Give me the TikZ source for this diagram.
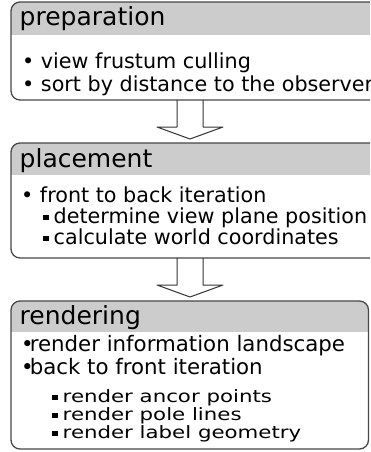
\documentclass[tikz,border=0pt]{standalone}
\usepackage{fontspec}
\setmainfont{DejaVu Sans}
\usepackage{graphicx}
\usepackage{tikz}

\newcommand{\sqbullet}{\rule[3pt]{6pt}{5.5pt}\hspace{4.5pt}}

\begin{document}
\begin{tikzpicture}
		[x=1pt,y=-1pt,line join=round,
		%Styles
		stage frame/.style={draw=framecolor,line width=1.3pt,rounded corners=9pt},
		header band/.style={fill=headcolor},
		title text/.style={anchor=base west,inner sep=0pt,font=\fontsize{25}{30}\selectfont},
		item text/.style={anchor=base west,inner sep=0pt,font=\fontsize{20.7}{25}\selectfont},
		small item/.style={anchor=base west,inner sep=0pt,font=\fontsize{21.3}{25}\selectfont},
		block arrow/.style={draw=arrowcolor,line width=1pt}
		]
		
		%Colors
		\colorlet{framecolor}{black!72}	%box outlines
		\colorlet{headcolor}{black!20}	%header bands
		\colorlet{arrowcolor}{black!80}
		
		\useasboundingbox (0,0) rectangle (370,452);
		\clip (0,0) rectangle (370,452);
		
		%The boxes
		\begin{scope}
			\clip[rounded corners=9pt] (11,2) rectangle (380,100);
			\fill[header band] (11,2) rectangle (380,35);
		\end{scope}
		\draw[stage frame] (11,2) rectangle (380,100);
		
		\begin{scope}
			\clip[rounded corners=9pt] (11,143) rectangle (380,258);
			\fill[header band] (11,143) rectangle (380,175);
		\end{scope}
		\draw[stage frame] (11,143) rectangle (380,258);
		
		\begin{scope}
			\clip[rounded corners=9pt] (11,301) rectangle (368.5,449);
			\fill[header band] (11,301) rectangle (368.5,332);
		\end{scope}
		\draw[stage frame] (11,301) rectangle (368.5,449);
		
		%The texts
		\node[title text] (prep) at (19.5,26) {preparation};
		\node[item text] (prep1) at (22,69) {• view frustum culling};
		\node[item text] (prep2) at (22,91) {• sort by distance to the observer};
		
		\node[title text] (place) at (19.5,167) {placement};
		\node[item text] (place1) at (21,202) {• front to back iteration};
		\node[item text] (place2) at (43,223) {\sqbullet determine view plane position};
		\node[item text] (place3) at (43,244) {\sqbullet calculate world coordinates};
		
		\node[title text] (render) at (19.5,324) {rendering};
		\node[small item] (render1) at (21,351) {•\kern-4pt render information landscape};
		\node[small item] (render2) at (21,374) {•\kern-4pt back to front iteration};
		\node[small item] (render3) at (52,402) {\scalebox{1}[0.8]{\sqbullet render ancor points}};
		\node[small item] (render4) at (52,420) {\scalebox{1}[0.8]{\sqbullet render pole lines}};
		\node[small item] (render5) at (52,438) {\scalebox{1}[0.8]{\sqbullet render label geometry}};
		
		%The arrows
		\coordinate (arrow1) at (190,100);
		\coordinate (arrow2) at (190,258);
		\draw[block arrow,shift={(arrow1)}] (-13,0) -- (-13,27) -- (-33,27) -- (0,39) -- (33,27) -- (13,27) -- (13,0);
		\draw[block arrow,shift={(arrow2)}] (-13,0) -- (-13,27) -- (-33,27) -- (0,39) -- (33,27) -- (13,27) -- (13,0);
	\end{tikzpicture}
\end{document}
